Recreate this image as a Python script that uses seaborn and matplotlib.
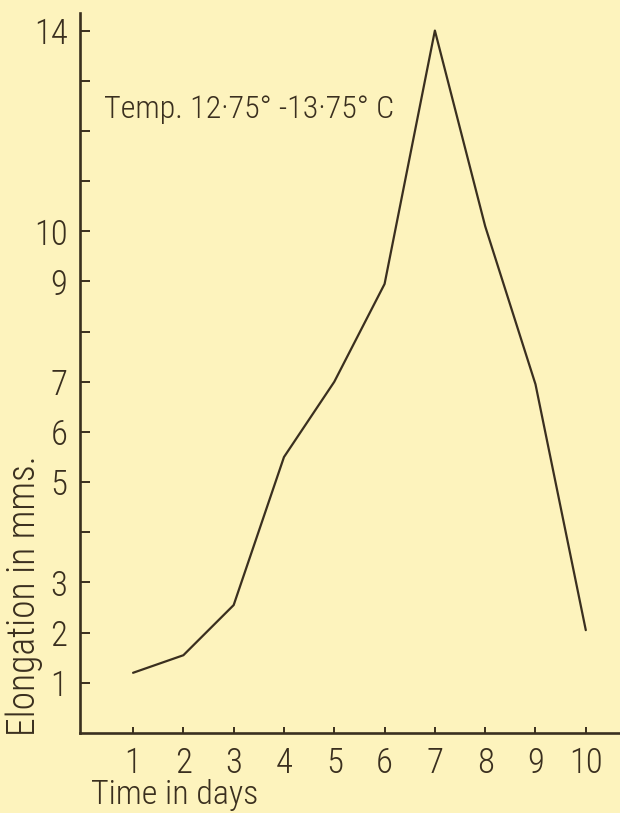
import matplotlib
matplotlib.use("Agg")
import matplotlib.pyplot as plt
import seaborn as sns
import pandas as pd

# Daily elongation readings
days = [1, 2, 3, 4, 5, 6, 7, 8, 9, 10]
elongation = [1.2, 1.55, 2.55, 5.5, 7.0, 8.95, 14.0, 10.1, 6.95, 2.05]

y_ticks = list(range(1, 15))
y_labelled = [1, 2, 3, 5, 6, 7, 9, 10, 14]
x_ticks = days

title_text = "Temp. 12·75° -13·75° C"
x_label = "Time in days"
y_label = "Elongation in mms."

paper = "#fdf3bd"
ink = "#3a2f1f"

sns.set_theme(style="ticks")
plt.rcParams["font.family"] = ["Roboto Condensed", "Liberation Sans Narrow", "DejaVu Sans"]
plt.rcParams["font.weight"] = "light"
plt.rcParams["text.color"] = ink

df = pd.DataFrame({"day": days, "elongation": elongation})

fig = plt.figure(figsize=(6.2, 8.13), dpi=100, facecolor=paper)
ax = fig.add_axes([80 / 620, 80 / 813, 540 / 620, 720 / 813])
ax.set_facecolor(paper)

sns.lineplot(data=df, x="day", y="elongation", ax=ax, color=ink, linewidth=1.6)

ax.set_xlim(-0.055, 10.68)
ax.set_ylim(0, 14.35)

ax.set_yticks(y_ticks)
ax.set_yticklabels([str(v) if v in y_labelled else "" for v in y_ticks])
ax.set_xticks(x_ticks)
ax.set_xticklabels([str(v) for v in x_ticks])

ax.tick_params(axis="y", direction="in", length=7, width=1.4, color=ink,
               labelsize=25, labelcolor=ink, pad=9)
ax.tick_params(axis="x", direction="in", length=4, width=1.4, color=ink,
               labelsize=25, labelcolor=ink, pad=10)
for lbl in ax.get_xticklabels() + ax.get_yticklabels():
    lbl.set_fontweight("light")

for side in ("top", "right"):
    ax.spines[side].set_visible(False)
for side in ("left", "bottom"):
    ax.spines[side].set_color(ink)
    ax.spines[side].set_linewidth(1.9)

ax.set_xlabel("")
ax.set_ylabel("")

fig.text(91 / 620, 2 / 813, x_label, ha="left", va="bottom", fontsize=24.5,
         color=ink, fontweight="light")
fig.text(24 / 620, (813 - 736) / 813, y_label, rotation=90, ha="center",
         va="bottom", fontsize=27, color=ink, fontweight="light")
fig.text(104 / 620, (813 - 118) / 813, title_text, ha="left", va="baseline",
         fontsize=23, color=ink, fontweight="light")

fig.savefig("out.png", dpi=100, facecolor=paper)
